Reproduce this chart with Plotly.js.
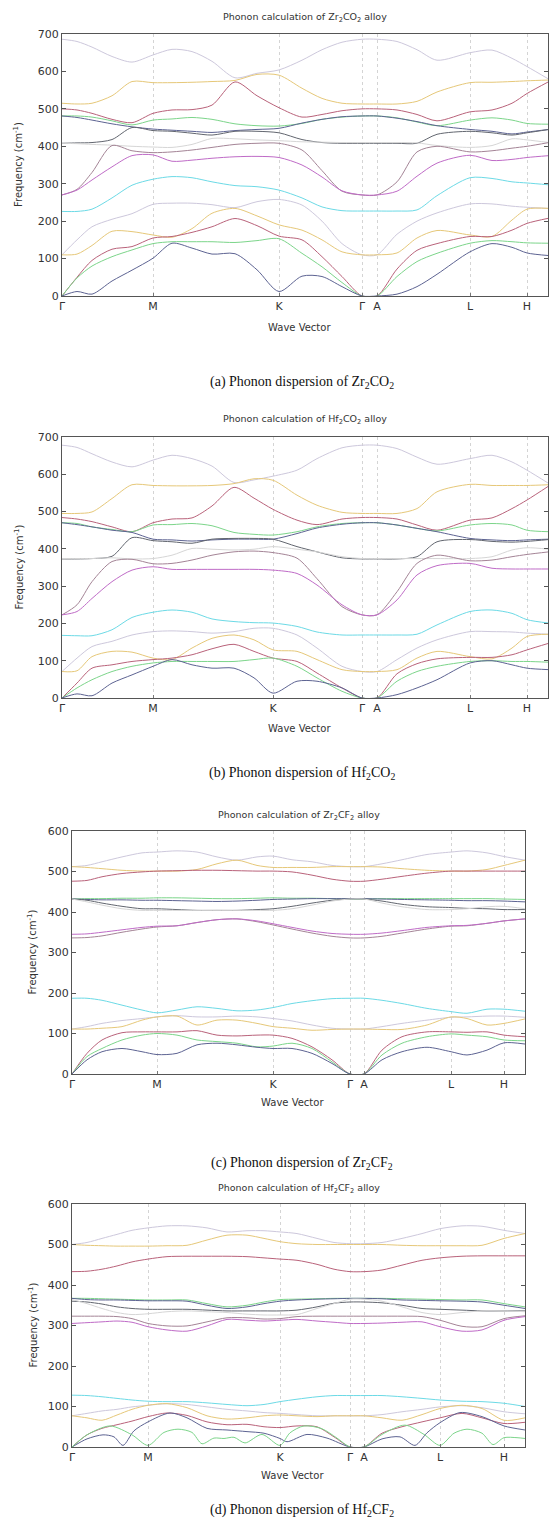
<!DOCTYPE html>
<html>
<head>
<meta charset="utf-8">
<script src="https://cdn.plot.ly/plotly-3.0.1.min.js"></script>
<style>html,body{margin:0;padding:0;background:#fff}#chart{width:549px;height:1523px}</style>
</head>
<body>
<div id="chart"></div>
<script>
// ---------- high-symmetry labels ----------
const symLabels = ['Γ','M','K','Γ','A','L','H'];
const symA = [0, 91, 217, 300, 315, 408, 465];
const symB = [0, 91, 211, 300, 315, 408, 465];
const symC = [0, 85, 201, 278, 292, 379, 432];
const symD = [0, 76, 208, 278, 292, 368, 432];

// ---------- (a) Zr2CO2 ----------
const kA = [0,15,30,50,70,91,110,130,150,173,195,217,240,260,280,300,315,335,355,375,408,430,450,465,487];
const a01 = [686,680,665,640,625,644,659,653,627,583,595,604,630,658,678,686,686,680,658,630,650,657,635,613,579];
const a02 = [515,513,515,535,573,570,570,571,573,576,592,590,555,528,515,513,513,513,520,545,570,571,573,575,577];
const a03 = [500,497,488,472,463,488,497,498,510,572,535,503,478,485,495,500,500,497,485,468,492,497,515,541,573];
const a04 = [481,481,478,468,457,470,473,477,472,460,455,454,461,472,478,481,481,476,465,455,470,476,470,461,459];
const a05 = [481,477,470,460,452,446,443,440,437,442,445,448,462,472,479,481,481,475,466,455,445,440,433,438,445];
const a06 = [408,409,410,418,450,442,440,435,430,440,440,436,418,410,408,408,408,408,408,432,440,436,430,436,445];
const a07 = [408,407,405,403,400,398,397,405,421,420,417,415,412,411,410,410,410,410,409,402,397,402,420,417,410];
const a08 = [270,285,330,402,388,383,385,390,397,405,408,408,390,335,280,270,270,305,385,400,385,388,395,400,410];
const a09 = [270,283,310,345,375,377,360,363,368,372,373,370,350,318,281,270,270,280,320,355,376,362,365,370,375];
const a10 = [226,226,232,262,296,312,319,316,305,295,292,283,262,238,228,227,227,227,230,268,316,314,305,302,297];
const a11 = [110,150,185,205,220,245,248,248,244,236,252,258,243,200,140,110,110,165,200,222,246,246,240,237,234];
const a12 = [110,112,135,173,172,163,157,180,221,234,214,190,176,150,118,110,110,115,155,175,163,159,203,232,234];
const a13 = [0,50,95,125,132,155,159,170,185,207,188,160,150,105,52,0,0,72,122,140,159,159,176,194,208];
const a14 = [0,48,80,105,123,140,145,145,145,143,148,153,114,78,36,0,0,52,92,114,141,148,145,142,141];
const a15 = [0,12,5,40,69,101,141,128,112,113,70,12,53,52,25,0,0,5,25,58,118,140,130,115,108];

// ---------- (b) Hf2CO2 ----------
const kB = [0,15,30,50,70,91,110,130,150,172,192,211,235,255,280,300,315,335,355,375,408,430,450,465,487];
const b01 = [678,672,655,633,620,638,651,642,622,578,585,595,611,642,671,678,678,669,646,627,642,651,633,611,575];
const b02 = [495,495,499,535,572,570,569,569,570,575,588,584,544,517,498,495,495,495,508,553,573,570,570,570,572];
const b03 = [484,480,473,459,446,470,480,483,515,565,536,506,477,465,480,484,484,480,464,450,477,483,508,531,569];
const b04 = [470,468,459,452,446,464,465,468,462,444,439,437,446,459,468,470,470,464,455,448,464,468,464,450,446];
const b05 = [470,465,459,450,444,426,424,421,424,426,426,426,441,456,466,470,470,464,455,446,428,424,422,424,426];
const b06 = [373,373,374,380,430,422,419,415,426,428,428,426,406,392,376,373,373,373,379,419,425,420,418,420,425];
const b07 = [374,374,374,376,373,374,383,401,399,397,399,406,399,392,379,374,374,374,374,374,374,379,397,403,399];
const b08 = [223,250,312,366,372,360,361,370,383,392,394,390,375,320,245,223,223,285,361,383,368,370,379,385,392];
const b09 = [223,232,267,312,343,352,345,345,345,345,345,343,334,303,250,223,223,263,330,355,361,348,346,346,346];
const b10 = [168,167,167,183,216,230,236,230,212,205,202,201,192,177,169,169,169,169,171,196,232,236,227,210,201];
const b11 = [71,107,138,152,169,178,180,178,174,178,187,187,169,134,85,71,71,103,134,156,178,178,177,174,171];
const b12 = [71,73,111,125,123,107,103,134,160,169,156,129,125,103,76,71,71,76,107,125,111,105,134,165,171];
const b13 = [0,40,80,89,98,103,107,116,132,144,125,107,98,67,27,0,0,65,92,105,109,109,116,129,147];
const b14 = [0,27,49,71,85,94,98,98,98,98,103,107,85,54,18,0,0,45,71,85,98,100,98,98,96];
const b15 = [0,11,6,40,62,85,103,89,80,80,54,13,45,45,27,0,0,9,27,49,94,100,89,80,76];

// ---------- (c) Zr2CF2 ----------
const kC = [0,15,30,50,70,85,105,125,145,165,185,201,220,240,260,278,292,310,330,355,379,395,415,432,453];
const c01 = [512,515,524,536,546,548,551,548,536,528,536,538,529,524,515,512,512,519,529,542,548,551,546,537,528];
const c02 = [512,510,507,503,501,501,501,505,519,528,515,510,510,510,512,512,512,511,507,503,501,501,505,515,528];
const c03 = [476,478,487,495,499,501,502,503,503,502,501,501,499,491,481,476,476,481,488,496,501,501,501,501,501];
const c04 = [432,433,433,434,434,435,435,434,433,433,434,435,434,434,433,432,432,433,433,433,433,433,433,432,431];
const c05 = [432,431,430,430,429,429,428,427,426,427,429,431,432,433,433,433,433,432,431,430,429,428,428,427,425];
const c06 = [432,429,422,414,408,408,406,404,404,404,406,408,414,422,429,432,432,427,419,413,411,409,408,406,406];
const c07 = [432,425,417,408,404,404,404,404,404,404,404,404,408,417,427,432,432,422,413,406,406,408,413,414,408];
const c08 = [336,337,341,350,358,363,366,374,381,383,376,368,358,348,340,336,336,340,348,358,365,366,372,378,383];
const c09 = [345,346,350,356,362,365,366,374,381,383,378,371,362,353,347,345,345,348,354,362,366,367,372,378,383];
const c10 = [187,187,182,170,158,151,158,166,162,156,158,164,174,181,186,187,187,182,174,162,154,150,160,160,155];
const c11 = [111,117,125,132,137,141,144,141,141,143,141,137,131,121,113,111,111,117,125,133,140,141,143,143,140];
const c12 = [111,111,113,117,133,141,143,121,133,133,125,117,113,108,110,111,111,110,110,121,141,137,121,125,136];
const c13 = [0,51,84,102,104,104,104,107,96,94,96,96,88,67,35,0,0,59,92,104,104,103,104,96,92];
const c14 = [0,43,63,84,96,100,96,84,80,76,67,69,76,63,30,0,0,47,76,92,99,96,92,84,82];
const c15 = [0,35,55,63,55,48,51,72,76,72,66,63,63,51,26,0,0,35,55,66,55,47,59,77,74];

// ---------- (d) Hf2CF2 ----------
const kD = [0,15,30,45,60,76,95,115,135,155,175,192,208,225,245,262,278,292,310,330,350,368,390,410,432,453];
const d01 = [500,505,515,525,535,541,546,546,541,531,534,534,531,527,515,505,502,502,505,515,527,539,546,545,535,527];
const d02 = [500,498,497,496,496,496,497,498,511,523,523,515,507,502,500,500,500,500,500,498,497,497,497,498,515,527];
const d03 = [433,434,439,447,457,464,470,471,471,471,470,467,464,461,451,439,433,433,437,449,461,467,471,472,472,472];
const d04 = [367,367,366,365,364,363,363,363,354,346,350,358,364,365,366,367,367,367,367,366,365,364,363,363,354,346];
const d05 = [367,364,363,363,362,361,361,360,350,342,346,354,360,363,365,366,367,367,366,363,362,361,360,358,350,342];
const d06 = [360,358,353,346,342,340,340,340,338,336,336,336,336,338,346,355,358,358,356,350,342,340,338,336,336,336];
const d07 = [364,354,342,332,327,329,334,336,334,332,328,326,326,327,342,354,365,365,360,346,332,327,332,336,336,334];
const d08 = [323,323,323,322,317,305,299,299,309,319,319,316,317,322,323,323,323,323,323,323,322,313,298,297,317,324];
const d09 = [305,307,309,311,308,297,289,286,299,315,313,311,313,315,311,308,305,305,306,308,309,297,286,289,313,322];
const d10 = [128,127,124,120,116,113,112,112,109,105,102,105,112,118,124,127,127,127,127,124,120,116,113,112,108,100];
const d11 = [77,83,89,93,99,103,107,105,99,93,89,85,83,80,77,77,77,77,80,87,93,99,102,97,87,82];
const d12 = [77,72,66,79,93,103,107,97,77,69,72,77,79,77,75,77,77,77,72,66,80,95,103,95,66,72];
const d13 = [0,30,46,55,64,75,84,78,62,55,56,50,48,52,50,25,0,0,34,50,62,72,83,72,58,61];
const kD14 = [0,15,31,42,51,62,76,98,115,135,155,175,192,208,215,235,255,278,292,310,328,343,355,368,388,410,432,453];
const d14 = [0,20,30,25,4,40,62,84,72,46,42,38,34,21,13,31,22,0,0,20,25,4,35,60,85,75,52,42];
const kD15 = [0,15,38,60,76,92,106,120,130,142,152,162,173,190,208,218,232,250,265,278,292,310,333,352,368,382,395,410,421,432,445,453];
const d15 = [0,30,52,30,4,36,44,36,8,22,21,24,10,31,4,35,52,45,22,0,0,31,54,31,4,34,44,34,6,23,23,21];

// ---------- styling ----------
const W = 549, H = 1523;
const COL = {
  lav:'#cdc8dc', yel:'#e6c879', red:'#b9627a', grn:'#7cd58a', navy:'#5d6392',
  dgray:'#62666f', lgray:'#d6d6d6', mauve:'#a48496', purp:'#bf6bc7', cyan:'#6cdae6'
};
const bandColors = [COL.lav,COL.yel,COL.red,COL.grn,COL.navy,COL.dgray,COL.lgray,COL.mauve,COL.purp,COL.cyan,COL.lav,COL.yel,COL.red,COL.grn,COL.navy];

const panels = [
  {k:kA, bands:[a01,a02,a03,a04,a05,a06,a07,a08,a09,a10,a11,a12,a13,a14,a15], sym:symA,
   box:[62,548,34,296], xmax:486, ymax:700, formula:'Zr<sub>2</sub>CO<sub>2</sub>', tag:'(a)',
   titleY:17, waveY:327, freqX:18, capY:382},
  {k:kB, bands:[b01,b02,b03,b04,b05,b06,b07,b08,b09,b10,b11,b12,b13,b14,b15], sym:symB,
   box:[62,548,437,698], xmax:486, ymax:700, formula:'Hf<sub>2</sub>CO<sub>2</sub>', tag:'(b)',
   titleY:419, waveY:728, freqX:18, capY:773},
  {k:kC, bands:[c01,c02,c03,c04,c05,c06,c07,c08,c09,c10,c11,c12,c13,c14,c15], sym:symC,
   box:[72,525,831,1074], xmax:453, ymax:600, formula:'Zr<sub>2</sub>CF<sub>2</sub>', tag:'(c)',
   titleY:815, waveY:1102, freqX:32, capY:1163},
  {k:kD, bands:[d01,d02,d03,d04,d05,d06,d07,d08,d09,d10,d11,d12,d13,[kD14,d14],[kD15,d15]], sym:symD,
   box:[72,525,1204,1447], xmax:453, ymax:600, formula:'Hf<sub>2</sub>CF<sub>2</sub>', tag:'(d)',
   titleY:1188, waveY:1475, freqX:32, capY:1510}
];
const panelDColors = bandColors.slice(0,13).concat([COL.navy, COL.grn]);

const traces = [];
const layout = {
  width: W, height: H, margin:{l:0,r:0,t:0,b:0},
  paper_bgcolor:'#ffffff', plot_bgcolor:'#ffffff',
  showlegend:false, hovermode:false,
  font:{family:'DejaVu Sans', color:'#333'},
  annotations:[]
};
const px = v => v / W, py = v => 1 - v / H;
const baseFont = {family:'DejaVu Sans', size:11, color:'#333'};

panels.forEach((p, i) => {
  const n = i === 0 ? '' : String(i + 1);
  const [x0, x1, yTop, yBot] = p.box;
  const colors = i === 3 ? panelDColors : bandColors;
  p.bands.forEach((b, j) => {
    const xs = Array.isArray(b[0]) ? b[0] : p.k;
    const ys = Array.isArray(b[0]) ? b[1] : b;
    traces.push({
      x: xs, y: ys, type:'scatter', mode:'lines',
      xaxis:'x' + n, yaxis:'y' + n,
      line:{color: colors[j], width:1, shape:'spline', smoothing:0.8},
      hoverinfo:'skip', cliponaxis:true
    });
  });
  layout['xaxis' + n] = {
    domain:[px(x0), px(x1)], range:[0, p.xmax], anchor:'y' + n,
    tickmode:'array', tickvals:p.sym, ticktext:symLabels,
    showgrid:true, griddash:'dot', gridcolor:'#d4d4d4', gridwidth:1,
    zeroline:false, showline:true, mirror:true, linecolor:'#555', linewidth:1,
    ticks:'inside', ticklen:3, tickcolor:'#777',
    tickfont:baseFont, fixedrange:true
  };
  layout['yaxis' + n] = {
    domain:[py(yBot), py(yTop)], range:[0, p.ymax], anchor:'x' + n,
    dtick:100, tick0:0, showgrid:false, zeroline:false,
    showline:true, mirror:'ticks', linecolor:'#555', linewidth:1,
    ticks:'inside', ticklen:4, tickcolor:'#555',
    tickfont:baseFont, fixedrange:true
  };
  const cx = (x0 + x1) / 2;
  layout.annotations.push(
    {text:'Phonon calculation of ' + p.formula + ' alloy', xref:'paper', yref:'paper',
     x:px(cx), y:py(p.titleY), xanchor:'center', yanchor:'middle', showarrow:false,
     font:{family:'DejaVu Sans', size:9.5, color:'#333'}},
    {text:'Wave Vector', xref:'paper', yref:'paper',
     x:px(cx - 6), y:py(p.waveY), xanchor:'center', yanchor:'middle', showarrow:false,
     font:{family:'DejaVu Sans', size:10, color:'#333'}},
    {text:'Frequency (cm<sup>-1</sup>)', xref:'paper', yref:'paper', textangle:-90,
     x:px(p.freqX), y:py((yTop + yBot) / 2), xanchor:'center', yanchor:'middle', showarrow:false,
     font:{family:'DejaVu Sans', size:10, color:'#333'}},
    {text:p.tag + ' Phonon dispersion of ' + p.formula, xref:'paper', yref:'paper',
     x:px(302), y:py(p.capY), xanchor:'center', yanchor:'middle', showarrow:false,
     font:{family:'Liberation Serif', size:14, color:'#111'}}
  );
});

Plotly.newPlot('chart', traces, layout, {staticPlot:true, displayModeBar:false});
</script>
</body>
</html>
